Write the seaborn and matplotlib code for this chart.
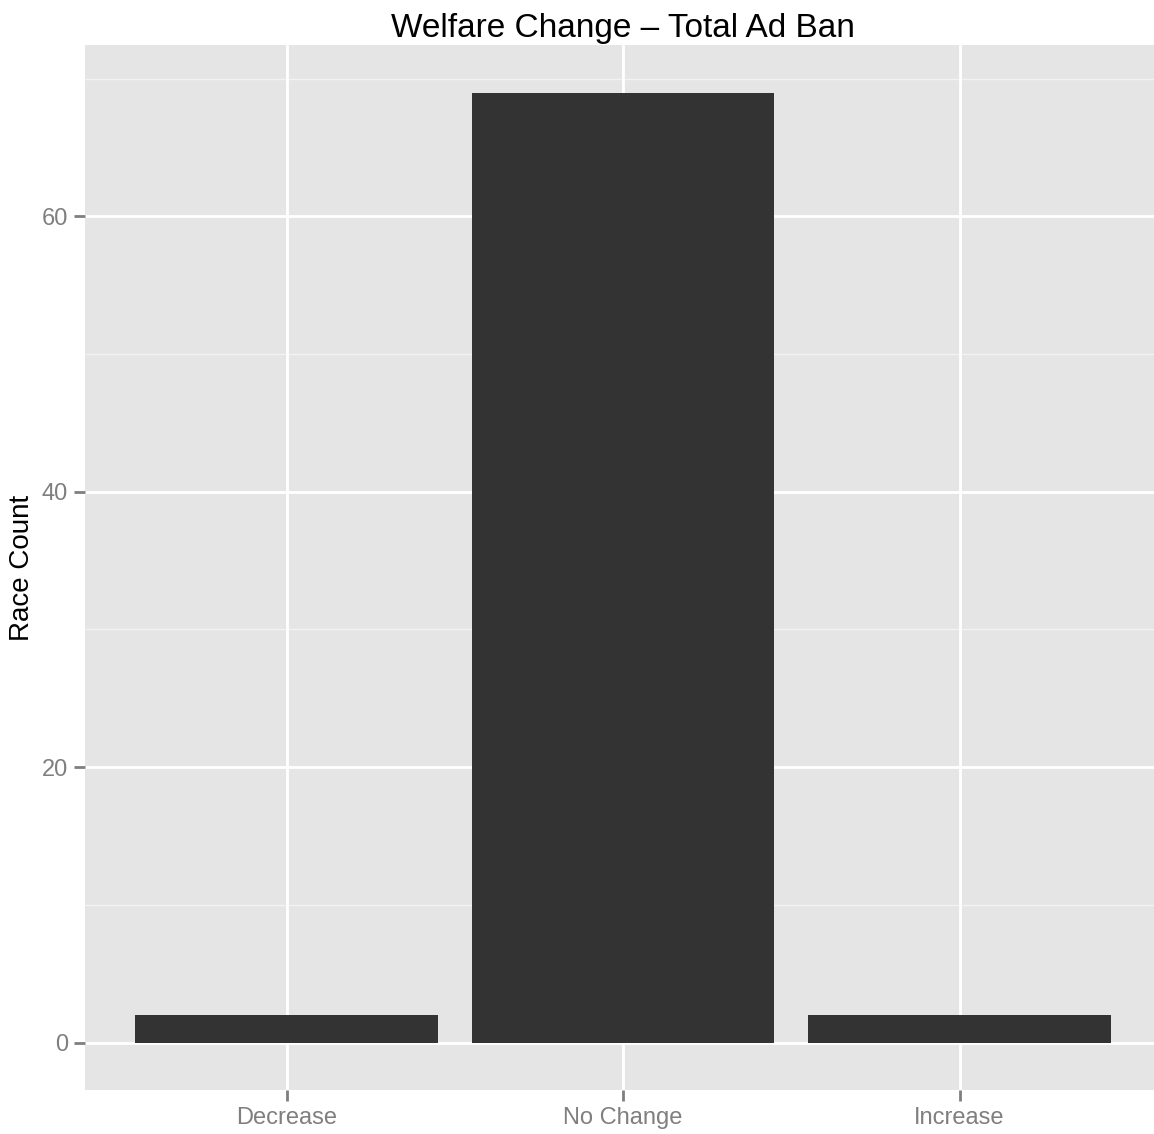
import pandas as pd
import numpy as np
import matplotlib
matplotlib.use("Agg")
import matplotlib.pyplot as plt
import seaborn as sns

# data
categories = ["Decrease", "No Change", "Increase"]
counts = [2, 69, 2]
y_ticks = [0, 20, 40, 60]
y_minor = [10, 30, 50, 70]

df = pd.DataFrame({"change": categories, "count": counts})

sns.set_theme(style="white")
plt.rcParams["font.family"] = ["Liberation Sans", "DejaVu Sans"]

fig = plt.figure(figsize=(11.54, 11.34), dpi=100)
# panel runs slightly past the right edge of the image, as in the original
ax = fig.add_axes([84.6 / 1154, 1 - 1090 / 1134, (1161.4 - 84.6) / 1154, (1090 - 45) / 1134])
ax.set_facecolor("#E5E5E5")

# ggplot-ish grid
for v in y_minor:
    ax.axhline(v, color="#F2F2F2", lw=1.0, zorder=0)
for v in y_ticks:
    ax.axhline(v, color="white", lw=2.0, zorder=0)
for i in range(len(categories)):
    ax.axvline(i, color="white", lw=2.0, zorder=0)

sns.barplot(data=df, x="change", y="count", color="#333333", saturation=1,
            width=0.9, ax=ax, zorder=2, edgecolor="none", linewidth=0)

ymax = max(counts)
ax.set_ylim(-0.05 * ymax, ymax * 1.05)
ax.set_xlim(-0.6, len(categories) - 0.4)
ax.set_yticks(y_ticks)
ax.set_yticklabels([str(v) for v in y_ticks])

for s in ax.spines.values():
    s.set_visible(False)
ax.tick_params(axis="both", colors="#7F7F7F", labelsize=17, length=8, width=2,
               direction="out", left=True, bottom=True, pad=4)
for lab in ax.get_xticklabels() + ax.get_yticklabels():
    lab.set_color("#7F7F7F")

ax.set_xlabel("")
ax.set_ylabel("Race Count", fontsize=20, color="black", labelpad=5)
ax.set_title("Welfare Change \u2013 Total Ad Ban", fontsize=24, color="black", pad=6)

fig.savefig("out.png", dpi=100)
